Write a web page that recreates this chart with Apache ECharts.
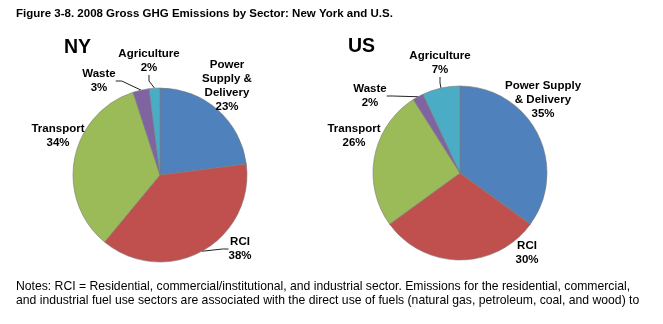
<!DOCTYPE html>
<html>
<head>
<meta charset="utf-8">
<script src="https://cdn.jsdelivr.net/npm/echarts@6/dist/echarts.min.js"></script>
<style>
  html, body { margin: 0; padding: 0; background: #fff; }
  #chart { width: 663px; height: 324px; }
</style>
</head>
<body>
<div id="chart"></div>
<script>
// Sector shares of gross GHG emissions, 2008 (percent)
const sectors   = ['Power Supply & Delivery', 'RCI', 'Transport', 'Waste', 'Agriculture'];
const nyShare   = [23, 38, 34, 3, 2];
const usShare   = [35, 30, 26, 2, 7];
// Label captions (line breaks differ between the two pies)
const nyCaption = ['Power\nSupply &\nDelivery', 'RCI', 'Transport', 'Waste', 'Agriculture'];
const usCaption = ['Power Supply\n& Delivery', 'RCI', 'Transport', 'Waste', 'Agriculture'];
const sectorColors = ['#4F81BD', '#C0504D', '#9BBB59', '#8064A2', '#4BACC6'];
// Which sectors get a leader line
const nyLeader = [false, true, false, true, true];
const usLeader = [false, false, false, true, true];

// Label anchor positions (centre of each label block), in pixels
const nyLabelPos = [[227, 86], [240, 249], [58, 136], [99, 81], [149, 61]];
const usLabelPos = [[543, 100], [527, 253], [354, 136], [370, 96], [440, 63]];

const FONT = 'Liberation Sans, Arial, sans-serif';
const chart = echarts.init(document.getElementById('chart'), null, { renderer: 'canvas' });

function pieSeries(name, center, values, captions, leaders, labelPos) {
  return {
    name: name,
    type: 'pie',
    center: center,
    radius: 87,
    startAngle: 90,
    clockwise: true,
    silent: true,
    animation: false,
    itemStyle: { borderColor: '#7a7a7a', borderWidth: 0.6 },
    label: {
      show: true,
      position: 'outside',
      formatter: p => captions[p.dataIndex] + '\n' + p.value + '%',
      fontFamily: FONT,
      fontWeight: 'bold',
      fontSize: 11.5,
      lineHeight: 14,
      color: '#000',
      align: 'center',
      overflow: 'none'
    },
    labelLine: { show: false, lineStyle: { color: '#222', width: 1 }, length: 6, length2: 6 },
    labelLayout: p => ({
      x: labelPos[p.dataIndex][0],
      y: labelPos[p.dataIndex][1],
      align: 'center',
      verticalAlign: 'middle'
    }),
    data: sectors.map((s, i) => ({
      name: s,
      value: values[i],
      itemStyle: { color: sectorColors[i] },
      labelLine: { show: leaders[i] }
    }))
  };
}

chart.setOption({
  backgroundColor: '#fff',
  title: [
    {
      text: 'NY', left: 64, top: 38, padding: 0,
      textStyle: { fontFamily: FONT, fontWeight: 'bold', fontSize: 19.5, color: '#000' }
    },
    {
      text: 'US', left: 348, top: 37, padding: 0,
      textStyle: { fontFamily: FONT, fontWeight: 'bold', fontSize: 19.5, color: '#000' }
    }
  ],
  graphic: [
    {
      type: 'text', left: 16, top: 8,
      style: {
        text: 'Figure 3-8. 2008 Gross GHG Emissions by Sector: New York and U.S.',
        fontFamily: FONT, fontWeight: 'bold', fontSize: 11.5, fill: '#000'
      }
    },
    {
      type: 'text', left: 16, top: 280,
      style: {
        text: 'Notes: RCI = Residential, commercial/institutional, and industrial sector. Emissions for the residential, commercial,\nand industrial fuel use sectors are associated with the direct use of fuels (natural gas, petroleum, coal, and wood) to',
        fontFamily: FONT, fontSize: 12.2, lineHeight: 14, fill: '#000'
      }
    }
  ],
  series: [
    pieSeries('New York', [160, 175], nyShare, nyCaption, nyLeader, nyLabelPos),
    pieSeries('United States', [460, 173], usShare, usCaption, usLeader, usLabelPos)
  ]
});
</script>
</body>
</html>
